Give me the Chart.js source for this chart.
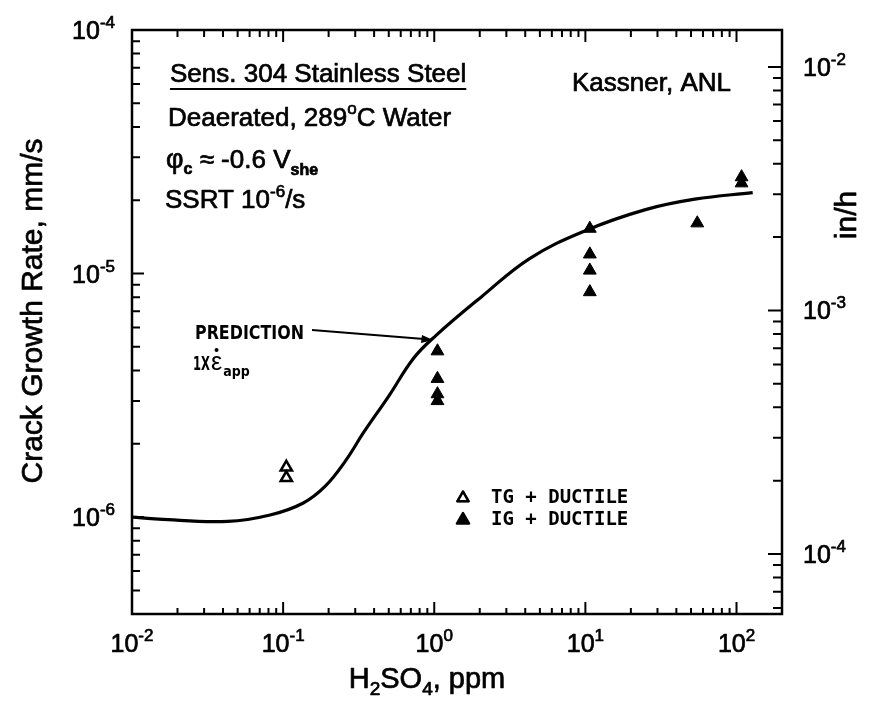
<!DOCTYPE html>
<html><head><meta charset="utf-8">
<script src="https://cdn.jsdelivr.net/npm/chart.js@4.4.1/dist/chart.umd.min.js"></script>
<style>html,body{margin:0;padding:0;background:#fff;}</style>
</head><body>
<canvas id="c" width="875" height="709"></canvas>
<script>
// ---------- data ----------
const curveX = [0.01, 0.015, 0.043, 0.082, 0.135, 0.19, 0.26, 0.34, 0.5, 0.73, 1.02, 2.04, 4.3, 10, 25, 53, 128];
const curveY = [1.0e-6, 9.8e-7, 9.6e-7, 1.02e-6, 1.14e-6, 1.34e-6, 1.71e-6, 2.22e-6, 3.14e-6, 4.49e-6, 5.55e-6, 8.0e-6, 1.155e-5, 1.5e-5, 1.83e-5, 2.02e-5, 2.15e-5];
const tgX = [0.105, 0.105];
const tgY = [1.6e-6, 1.45e-6];
const igX = [1.05, 1.05, 1.05, 1.05, 10.7, 10.7, 10.7, 10.7, 55, 108, 108];
const igY = [4.8e-6, 3.7e-6, 3.2e-6, 3.0e-6, 1.53e-5, 1.2e-5, 1.03e-5, 8.4e-6, 1.61e-5, 2.49e-5, 2.35e-5];
const xTickExps = [-2, -1, 0, 1, 2];
const yTickExps = [-6, -5, -4];
const y2TickExps = [-4, -3, -2];
const MMS_TO_INH = 3600 / 25.4;

const SANS = "'Liberation Sans', Arial, Helvetica, sans-serif";

function runs(ctx, parts, x, y, align) {
  let w = 0;
  parts.forEach(p => {
    ctx.font = (p.b ? 'bold ' : '') + p.s + 'px ' + (p.f || SANS);
    p.w = ctx.measureText(p.t).width; w += p.w;
  });
  let sx = align === 'center' ? x - w / 2 : align === 'right' ? x - w : x;
  ctx.textAlign = 'left'; ctx.textBaseline = 'alphabetic';
  ctx.lineWidth = 0.7; ctx.lineJoin = 'round';
  parts.forEach(p => {
    ctx.font = (p.b ? 'bold ' : '') + p.s + 'px ' + (p.f || SANS);
    ctx.fillText(p.t, sx, y + (p.dy || 0));
    ctx.strokeText(p.t, sx, y + (p.dy || 0));
    sx += p.w;
  });
  return w;
}
function powLabel(ctx, e, x, y, align) {
  return runs(ctx, [{t: '10', s: 25}, {t: String(e), s: 17, dy: -11}], x, y, align);
}
function logTicks(min, max) {
  const out = [];
  for (let e = Math.floor(Math.log10(min)); e <= Math.ceil(Math.log10(max)); e++) {
    for (let m = 1; m <= 9; m++) {
      const v = m * Math.pow(10, e);
      if (v >= min * 0.9999 && v <= max * 1.0001) out.push({v, major: m === 1});
    }
  }
  return out;
}

const axesPlugin = {
  id: 'axesPlugin',
  beforeDatasetsDraw(chart) {
    const ctx = chart.ctx, a = chart.chartArea;
    const sx = chart.scales.x, sy = chart.scales.y, sy2 = chart.scales.y2;
    ctx.save();
    ctx.strokeStyle = '#000'; ctx.lineWidth = 2.5; ctx.lineCap = 'butt';
    ctx.strokeRect(a.left, a.top, a.right - a.left, a.bottom - a.top);
    ctx.lineWidth = 2;
    ctx.beginPath();
    logTicks(sx.min, sx.max).forEach(t => {
      const px = sx.getPixelForValue(t.v);
      const l = t.major ? 12 : 6;
      ctx.moveTo(px, a.bottom); ctx.lineTo(px, a.bottom - l);
      ctx.moveTo(px, a.top); ctx.lineTo(px, a.top + (t.major ? 12 : 7));
    });
    logTicks(sy.min, sy.max).forEach(t => {
      const py = sy.getPixelForValue(t.v);
      const l = t.major ? 12 : 8;
      ctx.moveTo(a.left, py); ctx.lineTo(a.left + l, py);
    });
    logTicks(sy2.min, sy2.max).forEach(t => {
      const py = sy2.getPixelForValue(t.v);
      const l = t.major ? 14 : 9;
      ctx.moveTo(a.right, py); ctx.lineTo(a.right - l, py);
    });
    ctx.stroke();
    ctx.restore();
  },
  afterDraw(chart) {
    const ctx = chart.ctx, a = chart.chartArea;
    const sx = chart.scales.x, sy = chart.scales.y, sy2 = chart.scales.y2;
    ctx.save();
    ctx.fillStyle = '#000'; ctx.strokeStyle = '#000';
    // tick labels
    xTickExps.forEach(e => powLabel(ctx, e, sx.getPixelForValue(Math.pow(10, e)), a.bottom + 38, 'center'));
    yTickExps.forEach(e => powLabel(ctx, e, a.left - 17, sy.getPixelForValue(Math.pow(10, e)) + 9, 'right'));
    y2TickExps.forEach(e => powLabel(ctx, e, a.right + 21, sy2.getPixelForValue(Math.pow(10, e)) + 9, 'left'));
    // axis titles
    runs(ctx, [{t: 'H', s: 29}, {t: '2', s: 19, dy: 7}, {t: 'SO', s: 29}, {t: '4', s: 19, dy: 7}, {t: ', ppm', s: 29}], 427, 688, 'center');
    ctx.save(); ctx.translate(42, 311); ctx.rotate(-Math.PI / 2);
    runs(ctx, [{t: 'Crack Growth Rate, mm/s', s: 30}], 0, 0, 'center'); ctx.restore();
    ctx.save(); ctx.translate(856, 215); ctx.rotate(-Math.PI / 2);
    runs(ctx, [{t: 'in/h', s: 30}], 0, 0, 'center'); ctx.restore();
    // annotations
    const w1 = runs(ctx, [{t: 'Sens. 304 Stainless Steel', s: 26}], 170, 82, 'left');
    ctx.lineWidth = 2; ctx.beginPath(); ctx.moveTo(170, 89); ctx.lineTo(170 + w1, 89); ctx.stroke();
    runs(ctx, [{t: 'Kassner, ANL', s: 26}], 572, 91, 'left');
    runs(ctx, [{t: 'Deaerated, 289', s: 26}, {t: 'o', s: 17, dy: -12}, {t: 'C Water', s: 26}], 168, 126, 'left');
    runs(ctx, [{t: 'φ', s: 27}, {t: 'c', s: 16, dy: 6, b: true}, {t: ' ≈ -0.6 V', s: 26}, {t: 'she', s: 16, dy: 7, b: true}], 166, 168, 'left');
    runs(ctx, [{t: 'SSRT 10', s: 26}, {t: '-6', s: 17, dy: -11}, {t: '/s', s: 26}], 165, 208, 'left');
    // prediction label + arrow
    const cond = "'Liberation Sans Narrow', 'DejaVu Sans Condensed', " + SANS;
    ctx.font = 'bold 19px ' + cond; ctx.textAlign = 'left';
    ctx.fillText('PREDICTION', 195, 339, 109);
    ctx.fillText('1X', 193, 370, 17);
    ctx.font = '25px ' + SANS;
    const ew = ctx.measureText('ε').width;
    ctx.fillText('ε', 211, 370);
    ctx.beginPath(); ctx.arc(211 + ew / 2, 350, 2, 0, Math.PI * 2); ctx.fill();
    ctx.font = 'bold 14px ' + cond; ctx.fillText('app', 211 + ew + 1, 376, 28);
    ctx.lineWidth = 2; ctx.beginPath(); ctx.moveTo(312, 330); ctx.lineTo(424, 339); ctx.stroke();
    ctx.beginPath(); ctx.moveTo(433, 340); ctx.lineTo(422, 335); ctx.lineTo(421, 343); ctx.closePath(); ctx.fill();
    // legend
    Chart.helpers.drawPoint(ctx, {pointStyle: 'triangle', radius: 6.5, borderWidth: 2.5}, 463, 498);
    ctx.fillStyle = '#fff'; ctx.fill(); ctx.strokeStyle = '#000'; ctx.lineWidth = 2.5; ctx.stroke();
    ctx.fillStyle = '#000';
    Chart.helpers.drawPoint(ctx, {pointStyle: 'triangle', radius: 7, borderWidth: 1}, 463, 520);
    ctx.fill();
    ctx.font = "bold 19px 'DejaVu Sans Mono', monospace";
    ctx.fillText('TG + DUCTILE', 491, 503, 143);
    ctx.fillText('IG + DUCTILE', 491, 525, 143);
    ctx.restore();
  }
};

new Chart(document.getElementById('c').getContext('2d'), {
  type: 'scatter',
  data: {
    datasets: [
      {label: 'Prediction 1X', data: curveX.map((x, i) => ({x, y: curveY[i]})), showLine: true,
       borderColor: '#000', borderWidth: 3.2, pointRadius: 0, tension: 0.4, fill: false},
      {label: 'TG + DUCTILE', data: tgX.map((x, i) => ({x, y: tgY[i]})), pointStyle: 'triangle',
       pointRadius: 6.5, backgroundColor: '#fff', borderColor: '#000', borderWidth: 2.5},
      {label: 'IG + DUCTILE', data: igX.map((x, i) => ({x, y: igY[i]})), pointStyle: 'triangle',
       pointRadius: 7.4, backgroundColor: '#000', borderColor: '#000', borderWidth: 1}
    ]
  },
  options: {
    responsive: false, animation: false, devicePixelRatio: 1,
    layout: {padding: {left: 132, right: 93, top: 30, bottom: 95}},
    plugins: {legend: {display: false}, tooltip: {enabled: false}},
    scales: {
      x: {type: 'logarithmic', min: 0.01, max: 200, display: false},
      y: {type: 'logarithmic', min: 4e-7, max: 1e-4, display: false},
      y2: {type: 'logarithmic', position: 'right', min: 4e-7 * MMS_TO_INH, max: 1e-4 * MMS_TO_INH, display: false}
    }
  },
  plugins: [axesPlugin]
});
</script>
</body></html>
